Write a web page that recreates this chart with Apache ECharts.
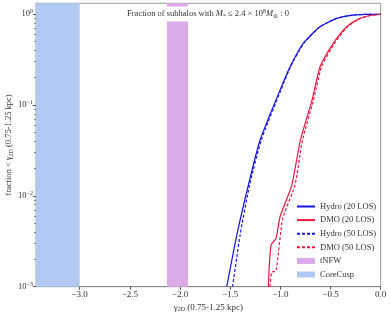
<!DOCTYPE html>
<html><head><meta charset="utf-8">
<script src="https://cdn.jsdelivr.net/npm/echarts@6/dist/echarts.min.js"></script>
<style>html,body{margin:0;padding:0;background:#fff}#c{width:390px;height:316px}</style>
</head><body><div id="c"></div>
<script>
// ---- data ----
const hydro20X = [-1.534,-1.434,-1.319,-1.202,-1.003,-0.903,-0.771,-0.605,-0.438,-0.276,-0.15,0];
const hydro20Y = [0.001,0.0037,0.0131,0.0412,0.146,0.264,0.478,0.728,0.901,0.98,0.997,1];
const hydro50X = [-1.476,-1.401,-1.307,-1.19,-0.995,-0.899,-0.768,-0.603,-0.437,-0.276,-0.15,0];
const hydro50Y = [0.001,0.0037,0.0131,0.0412,0.146,0.264,0.478,0.728,0.901,0.98,0.997,1];
const dmo20X = [-1.120,-1.093,-1.043,-1.003,-0.886,-0.800,-0.684,-0.604,-0.472,-0.339,-0.206,-0.107,0];
const dmo20Y = [0.001,0.00287,0.0034,0.00589,0.01315,0.0412,0.1135,0.264,0.478,0.728,0.901,0.968,1];
const dmo50X = [-1.103,-1.086,-1.043,-0.976,-0.854,-0.779,-0.670,-0.589,-0.46,-0.331,-0.2,-0.105,0];
const dmo50Y = [0.001,0.00144,0.00149,0.00565,0.01315,0.0412,0.1135,0.264,0.478,0.728,0.901,0.968,1];
const tnfwRange = [-2.13, -1.92];
const coreCuspRange = [-3.435, -3.0];
const yRange = [0.001, 1.32];
const xTicks = [-3.0,-2.5,-2.0,-1.5,-1.0,-0.5,0.0];
const yMinorTicks = [0.002,0.003,0.004,0.005,0.006,0.007,0.008,0.009,0.02,0.03,0.04,0.05,0.06,0.07,0.08,0.09,0.2,0.3,0.4,0.5,0.6,0.7,0.8,0.9];
const seriesNames = ['Hydro (20 LOS)','DMO (20 LOS)','Hydro (50 LOS)','DMO (50 LOS)','tNFW','CoreCusp'];

const FONT = '"Liberation Serif", "DejaVu Serif", serif';
const BLUE = '#1414e6', RED = '#e8173f';
const zip = (xs, ys) => xs.map((x, i) => [x, ys[i]]);
function fmtLog(v){
  const e = Math.round(Math.log10(v));
  return '10{sup|' + String(e).replace('-', '−') + '}';
}
const rich = {
  sup:{fontSize:6, verticalAlign:'top', padding:[0,0,5,0], fontFamily:FONT, color:'#333'},
  sub:{fontSize:6, padding:[5,0,0,0], fontFamily:FONT, color:'#333'},
  i:{fontStyle:'italic', fontFamily:FONT, fontSize:8.5, color:'#333'}
};

const chart = echarts.init(document.getElementById('c'), null, {renderer:'canvas'});
function lineSeries(name, xs, ys, color, dashed){
  return {name, type:'line', data:zip(xs, ys), symbol:'none', showSymbol:false,
    smooth:0.2,
    color, lineStyle:{color, width:1.2, type: dashed ? [3,2] : 'solid'}, z:3, clip:true};
}
const option = {
  animation:false,
  backgroundColor:'#fff',
  grid:{left:36, right:9.3, top:3.3, bottom:29.3, show:true, borderColor:'#999', borderWidth:1, outerBoundsMode:'none', containLabel:false},
  xAxis:{type:'value', min:coreCuspRange[0], max:0,
    axisLine:{show:true, onZero:false, lineStyle:{color:'#888', width:1}},
    splitLine:{show:false},
    axisTick:{show:true, customValues:xTicks, length:3, lineStyle:{color:'#555'}},
    axisLabel:{customValues:xTicks, formatter:v=>(v===0?'0.0':v.toFixed(1).replace('-','−')), fontFamily:FONT, fontSize:9, color:'#333', margin:3},
    name:'{g|γ}{s|2D} (0.75-1.25 kpc)', nameLocation:'middle', nameGap:15, nameMoveOverlap:false,
    nameTextStyle:{fontFamily:FONT, fontSize:9, color:'#333', rich:{g:{fontFamily:FONT,fontSize:9,color:'#333'}, s:{fontFamily:FONT,fontSize:6,color:'#333',padding:[5,0,0,0]}}}
  },
  yAxis:[
    {type:'log', logBase:10, min:yRange[0], max:yRange[1], position:'left',
      axisLine:{show:true, onZero:false, lineStyle:{color:'#888', width:1}},
      splitLine:{show:false},
      axisTick:{show:true, length:3, lineStyle:{color:'#555'}},
      minorTick:{show:false},
      axisLabel:{formatter:fmtLog, fontFamily:FONT, fontSize:8.5, color:'#333', margin:3, rich, showMaxLabel:false},
      name:'fraction < {g|γ}{s|2D} (0.75-1.25 kpc)', nameLocation:'middle', nameGap:22, nameMoveOverlap:false,
      nameTextStyle:{fontFamily:FONT, fontSize:8.5, color:'#333', rich:{g:{fontFamily:FONT,fontSize:8.5,color:'#333'}, s:{fontFamily:FONT,fontSize:6,color:'#333',padding:[5,0,0,0]}}}
    },
    // minor-tick axis: same log scale expressed as decades
    {type:'value', min:Math.log10(yRange[0]), max:Math.log10(yRange[1]), position:'left', offset:0,
      axisLine:{show:false, onZero:false}, splitLine:{show:false},
      axisTick:{show:true, customValues:yMinorTicks.map(Math.log10), length:1.8, lineStyle:{color:'#777'}},
      axisLabel:{show:false}
    }
  ],
  legend:{orient:'vertical', left:291, top:197, itemWidth:18, itemHeight:6, itemGap:4.6,
    textStyle:{fontFamily:FONT, fontSize:8.5, color:'#333'},
    data:[
      {name:seriesNames[0], itemStyle:{opacity:0}},{name:seriesNames[1], itemStyle:{opacity:0}},
      {name:seriesNames[2], itemStyle:{opacity:0}},{name:seriesNames[3], itemStyle:{opacity:0}},
      {name:seriesNames[4], icon:'rect'},{name:seriesNames[5], icon:'rect'}
    ]
  },
  graphic:[{type:'text', x:208, y:14, z:10,
    style:{text:'Fraction of subhalos with {i|M}{sub|*} ≤ 2.4 × 10{sup|8}{i|M}{sub|⊙} : 0',
      align:'center', verticalAlign:'middle', fontFamily:FONT, fontSize:8.5, fill:'#333',
      backgroundColor:'#fff', padding:[2,3], rich}}],
  series:[
    lineSeries(seriesNames[0], hydro20X, hydro20Y, BLUE, false),
    lineSeries(seriesNames[1], dmo20X, dmo20Y, RED, false),
    lineSeries(seriesNames[2], hydro50X, hydro50Y, BLUE, true),
    lineSeries(seriesNames[3], dmo50X, dmo50Y, RED, true),
    {name:seriesNames[4], type:'line', data:[], color:'#dcaae8', z:1,
      markArea:{silent:true, itemStyle:{color:'#dcaae8'}, data:[[{xAxis:tnfwRange[0]},{xAxis:tnfwRange[1]}]]}},
    {name:seriesNames[5], type:'line', data:[], color:'#b1caf4', z:1,
      markArea:{silent:true, itemStyle:{color:'#b1caf4'}, data:[[{xAxis:coreCuspRange[0]},{xAxis:coreCuspRange[1]}]]}}
  ]
};
chart.setOption(option);
</script></body></html>
